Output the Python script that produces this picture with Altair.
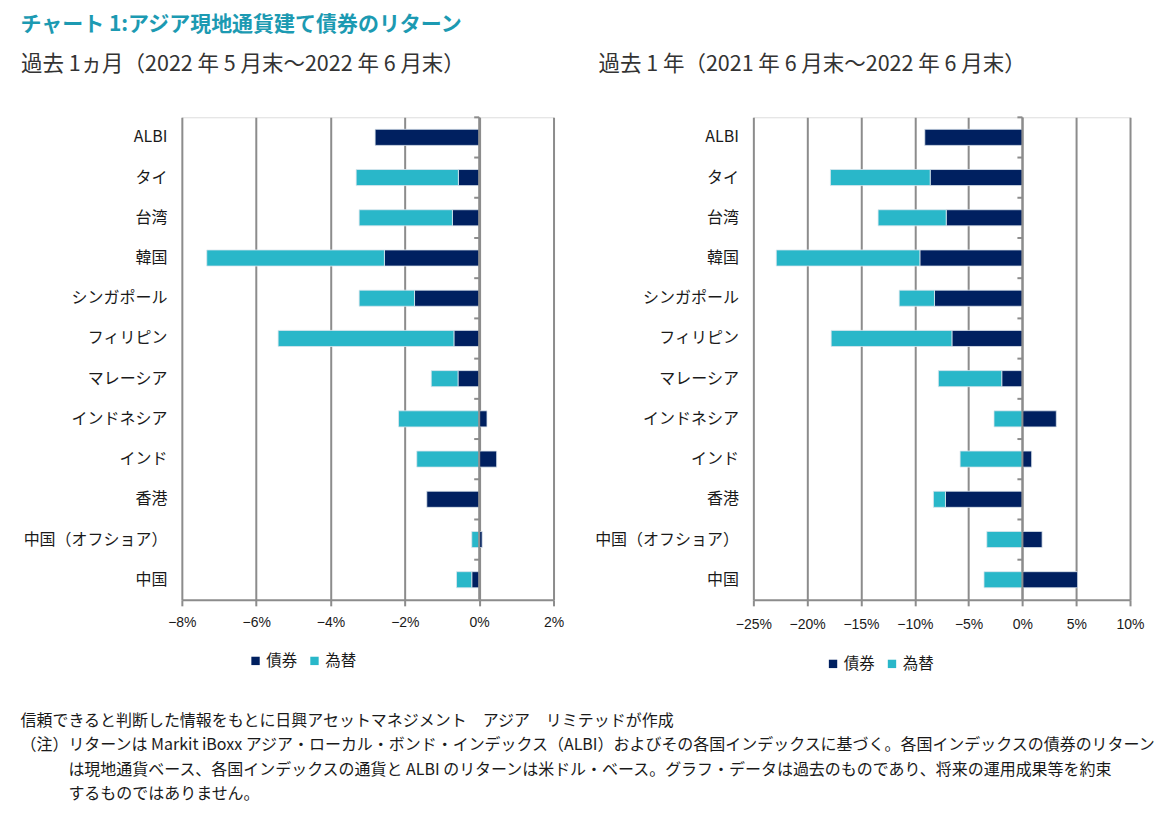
import altair as alt
import pandas as pd

categories = ["ALBI", "タイ", "台湾", "韓国", "シンガポール", "フィリピン", "マレーシア",
              "インドネシア", "インド", "香港", "中国（オフショア）", "中国"]

# 過去1ヵ月 (%)
m1_bond = [-2.80, -0.56, -0.72, -2.55, -1.74, -0.68, -0.57, 0.21, 0.47, -1.41, 0.08, -0.20]
m1_fx = [0.0, -2.75, -2.51, -4.78, -1.49, -4.73, -0.72, -2.17, -1.68, 0.0, -0.20, -0.41]

# 過去1年 (%)
y1_bond = [-9.07, -8.57, -7.08, -9.53, -8.17, -6.55, -1.92, 3.15, 0.86, -7.15, 1.83, 5.13]
y1_fx = [0.0, -9.27, -6.33, -13.34, -3.28, -11.22, -5.89, -2.64, -5.79, -1.12, -3.31, -3.57]

series_names = ["債券", "為替"]
series_colors = ["#002060", "#29B7C9"]

left_ticks = [-8, -6, -4, -2, 0, 2]
right_ticks = [-25, -20, -15, -10, -5, 0, 5, 10]

title_main = "チャート 1:アジア現地通貨建て債券のリターン"
title_left = "過去 1ヵ月（2022 年 5 月末～2022 年 6 月末）"
title_right = "過去 1 年（2021 年 6 月末～2022 年 6 月末）"
INDENT = "\u200b\u3000\u3000\u3000"
footnotes = [
    "信頼できると判断した情報をもとに日興アセットマネジメント　アジア　リミテッドが作成",
    "（注）リターンは Markit iBoxx アジア・ローカル・ボンド・インデックス（ALBI）およびその各国インデックスに基づく。各国インデックスの債券のリターン",
    INDENT + "は現地通貨ベース、各国インデックスの通貨と ALBI のリターンは米ドル・ベース。グラフ・データは過去のものであり、将来の運用成果等を約束",
    INDENT + "するものではありません。",
]

JP = "Noto Sans CJK JP"
NUM = "Liberation Sans Narrow, Liberation Sans, Noto Sans CJK JP"
GRID = "#8C8C8C"
TXT = "#1a1a1a"


def make_df(bond, fx):
    rows = []
    for i, c in enumerate(categories):
        b, f = bond[i], fx[i]
        rows.append({"cat": c, "series": series_names[0], "order": 0,
                     "x0": 0.0, "x1": b})
        if f != 0:
            start = b if b < 0 else 0.0
            rows.append({"cat": c, "series": series_names[1], "order": 1,
                         "x0": start, "x1": start + f})
    return pd.DataFrame(rows)


def panel(bond, fx, ticks, width, ytitle, minext, legx, legy, lpad, tdx):
    df = make_df(bond, fx)
    xscale = alt.Scale(domain=[ticks[0], ticks[-1]], nice=False, zero=False)
    yscale = alt.Scale(domain=categories, paddingInner=0.6, paddingOuter=0.3)
    bars = alt.Chart(df).mark_bar(stroke="#DDE6EE", strokeWidth=0.8).encode(
        x=alt.X("x0:Q", scale=xscale,
                axis=alt.Axis(values=ticks, title=None, grid=True, gridColor=GRID,
                              gridWidth=2, domainColor=GRID, domainWidth=2,
                              tickColor=GRID, tickWidth=2, tickSize=6,
                              labelFont=NUM, labelFontSize=14, labelColor=TXT,
                              labelPadding=lpad, labelFlush=False, labelOverlap=False,
                              labelExpr="replace(datum.value, '-', '−') + '%'")),
        x2="x1:Q",
        y=alt.Y("cat:N", scale=yscale, sort=categories,
                axis=alt.Axis(title=None, domain=False, ticks=False, tickSize=0,
                              grid=False, labelFont=JP, labelFontSize=16,
                              labelColor=TXT, labelPadding=15, minExtent=minext)),
        color=alt.Color("series:N",
                        scale=alt.Scale(domain=series_names, range=series_colors),
                        legend=alt.Legend(title=None, orient="none", legendX=legx,
                                          legendY=legy, direction="horizontal",
                                          symbolType="square", symbolSize=70,
                                          symbolStrokeWidth=0, labelFont=JP,
                                          labelFontSize=15.5, labelColor=TXT,
                                          labelOffset=3, columnPadding=9)),
        order="order:Q",
    )
    tick_df = pd.DataFrame({"cat": categories})
    ticks_layer = alt.Chart(tick_df).mark_rule(color=GRID, strokeWidth=2,
                                               xOffset=-5, yOffset=-12).encode(
        x=alt.datum(0, scale=xscale),
        x2=alt.datum(0),
        y=alt.Y("cat:N", scale=yscale, sort=categories, bandPosition=0),
    )
    zero_df = pd.DataFrame({"v": [0]})
    zero_line = alt.Chart(zero_df).mark_rule(color=GRID, strokeWidth=2).encode(
        x=alt.X("v:Q", scale=xscale)
    )
    return alt.layer(bars, zero_line, ticks_layer).properties(
        width=width, height=483,
        title=alt.TitleParams(ytitle, anchor="start", frame="bounds", font=JP,
                              fontSize=21.5, fontWeight="normal", color="#333",
                              offset=41, dx=tdx),
    )


left = panel(m1_bond, m1_fx, left_ticks, 372, title_left, 161, 66, 536, 10, 0)
right = panel(y1_bond, y1_fx, right_ticks, 377, title_right, 154, 72, 539, 12, 4)

inner = alt.hconcat(left, right, spacing=29).resolve_legend(color="independent").properties(
    title=alt.TitleParams(footnotes, orient="bottom", anchor="start", frame="bounds",
                          font=JP, fontSize=16, fontWeight="normal", color=TXT,
                          lineHeight=24.3, offset=40, dx=0)
)

chart = alt.vconcat(inner).properties(
    padding={"left": 12, "top": 5, "right": 5, "bottom": 5},
    title=alt.TitleParams(title_main, anchor="start", frame="bounds", font=JP,
                          fontSize=21, fontWeight="bold", color="#1C9AB2",
                          offset=18.5, dx=0)
).configure_view(stroke=None).configure(background="white")

chart.save("out.html", embed_options={"renderer": "svg", "actions": False})
